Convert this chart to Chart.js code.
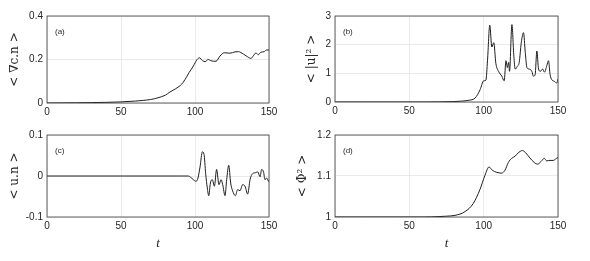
<!DOCTYPE html>
<html>
<head>
<meta charset="utf-8">
<script src="https://cdn.jsdelivr.net/npm/chart.js@4"></script>
<style>
  html, body { margin: 0; padding: 0; background: #fff; }
  #wrap { position: relative; width: 590px; height: 261px; }
  canvas { position: absolute; }
</style>
</head>
<body>
<div id="wrap">
  <canvas id="pa" width="295" height="125" style="left:0;top:0"></canvas>
  <canvas id="pb" width="295" height="125" style="left:295px;top:0"></canvas>
  <canvas id="pc" width="295" height="136" style="left:0;top:125px"></canvas>
  <canvas id="pd" width="295" height="136" style="left:295px;top:125px"></canvas>
</div>
<script>
// (a) <grad c . n>
const tGrad = [0, 10, 20, 30, 40, 50, 60, 65, 70, 75, 80, 83, 87, 90, 92, 94.4, 96, 98.9, 101.1, 103, 105, 106.8, 109, 110.6, 112.4, 114.2, 116.9, 119.8, 123.6, 127, 129.3, 132.7, 135.4, 137.8, 139.4, 141.2, 142.8, 144.4, 146.7, 148.4, 150];
const gradCN = [0, 0.0005, 0.001, 0.002, 0.003, 0.005, 0.009, 0.012, 0.016, 0.024, 0.036, 0.05, 0.066, 0.08, 0.095, 0.121, 0.14, 0.17, 0.197, 0.208, 0.195, 0.19, 0.2, 0.195, 0.192, 0.192, 0.216, 0.231, 0.229, 0.235, 0.236, 0.225, 0.213, 0.205, 0.217, 0.23, 0.222, 0.233, 0.236, 0.244, 0.243];

// (b) <|u|^2>
const tU2 = [0, 20, 40, 60, 70, 80, 85, 90, 94.3, 97.6, 100, 101.5, 102.6, 104.1, 105.5, 106.8, 108.2, 110, 112.2, 113.8, 115, 115.9, 116.8, 117.4, 119, 120.3, 121.2, 122.6, 123.9, 125.3, 126.8, 128, 129.1, 130.6, 132.4, 133.5, 134.6, 135.8, 136.9, 138.2, 139.6, 140.9, 142.5, 143.6, 144.7, 145.8, 147.6, 149.1, 150];
const u2 = [0, 0, 0, 0, 0.003, 0.015, 0.03, 0.06, 0.14, 0.43, 0.74, 0.76, 1.46, 2.68, 1.92, 2.07, 1.35, 1.07, 0.9, 0.74, 1.44, 1.2, 1.38, 1.07, 2.7, 1.6, 1.15, 1.24, 1.38, 2.07, 2.42, 1.72, 1.2, 1.15, 1.07, 0.9, 0.95, 1.78, 1.15, 1.07, 1.15, 1.04, 1.27, 1.44, 0.95, 0.78, 0.72, 0.66, 0.8];

// (c) <u.n>
const tUN = [0, 50, 90, 95.5, 97, 98.9, 100.7, 102, 103.4, 105, 106.1, 107.2, 108.3, 109.3, 110.4, 111.7, 113.1, 114.6, 116.2, 117.6, 118.7, 120.3, 121.4, 122.8, 124.1, 125.4, 127.3, 128.8, 130.4, 132.2, 133.8, 135.6, 137.2, 139, 140.8, 142.4, 144, 145, 146.3, 147.3, 148.4, 149.8, 150];
const uN = [0, 0, 0, 0, -0.003, -0.009, -0.013, -0.005, 0.022, 0.059, 0.053, 0.006, -0.029, -0.048, -0.017, -0.009, -0.025, 0.016, -0.021, -0.009, -0.021, -0.048, -0.009, 0.026, -0.017, -0.036, -0.048, -0.033, -0.036, -0.021, -0.025, -0.044, -0.009, 0.006, 0.008, 0.01, -0.002, 0.016, 0.01, -0.009, -0.005, -0.013, -0.01];

// (d) <Phi^2>
const tPhi = [0, 20, 40, 60, 70, 75, 80.7, 87.4, 93, 97.5, 100.9, 103.6, 105.8, 108.7, 112.1, 114.3, 116.6, 118.8, 121.1, 123.7, 126.2, 128.4, 131.1, 134, 136.3, 138.5, 140.8, 142.3, 144.6, 146.8, 149, 150];
const phi2 = [1, 1, 1, 1, 1.001, 1.002, 1.004, 1.013, 1.033, 1.067, 1.102, 1.122, 1.114, 1.109, 1.107, 1.114, 1.133, 1.143, 1.148, 1.158, 1.162, 1.156, 1.144, 1.133, 1.129, 1.135, 1.143, 1.137, 1.138, 1.138, 1.143, 1.145];

const xTicks = [0, 50, 100, 150];

const tickFont = { family: "Liberation Sans", size: 10 };
const inkColor = "#262626";

// box around plot + panel tag
const boxPlugin = {
  id: "box",
  afterDraw(chart, args, opts) {
    const { ctx, chartArea: a } = chart;
    ctx.save();
    ctx.strokeStyle = "#3a3a3a";
    ctx.lineWidth = 0.8;
    ctx.strokeRect(a.left, a.top, a.right - a.left, a.bottom - a.top);
    ctx.fillStyle = inkColor;
    ctx.font = "8px 'Liberation Sans'";
    ctx.textBaseline = "middle";
    ctx.fillText(opts.tag, a.left + 8, a.top + 16);
    ctx.restore();
  }
};

function makePanel(id, t, v, cfg) {
  new Chart(document.getElementById(id), {
    type: "line",
    data: {
      datasets: [{
        data: t.map((x, i) => ({ x: x, y: v[i] })),
        borderColor: "#1e1e1e",
        borderWidth: 1,
        pointRadius: 0,
        cubicInterpolationMode: "monotone",
        fill: false
      }]
    },
    options: {
      responsive: false,
      animation: false,
      layout: { padding: { top: cfg.top, right: cfg.right, left: 0, bottom: 0 } },
      plugins: { legend: { display: false }, tooltip: { enabled: false }, box: { tag: cfg.tag } },
      scales: {
        x: {
          type: "linear",
          min: 0, max: 150,
          afterBuildTicks: s => { s.ticks = xTicks.map(x => ({ value: x })); },
          afterFit: s => { s.height = cfg.xh; },
          grid: { color: "#e4e4e4", drawTicks: false, lineWidth: 0.8 },
          border: { display: false },
          ticks: { font: tickFont, color: inkColor, padding: 3, maxRotation: 0 },
          title: {
            display: cfg.showT,
            text: "t",
            font: { family: "Liberation Serif", size: 13, style: "italic" },
            color: inkColor,
            padding: { top: 0, bottom: 10 }
          }
        },
        y: {
          min: cfg.yTicks[0], max: cfg.yTicks[cfg.yTicks.length - 1],
          afterBuildTicks: s => { s.ticks = cfg.yTicks.map(y => ({ value: y })); },
          afterFit: s => { s.width = cfg.yw; },
          grid: { color: "#e4e4e4", drawTicks: false, lineWidth: 0.8 },
          border: { display: false },
          ticks: { font: tickFont, color: inkColor, padding: 4, callback: val => String(+val.toFixed(2)) },
          title: {
            display: true,
            text: cfg.yTitle,
            font: { family: "DejaVu Serif", size: 12 },
            color: inkColor,
            padding: { top: cfg.titlePad, bottom: 0 }
          }
        }
      }
    },
    plugins: [boxPlugin]
  });
}

makePanel("pa", tGrad, gradCN, { tag: "(a)", top: 16, right: 26, yw: 47, xh: 22, showT: false, yTicks: [0, 0.2, 0.4], yTitle: "< \u2207c.n >", titlePad: 8 });
makePanel("pb", tU2, u2, { tag: "(b)", top: 16, right: 32, yw: 40, xh: 23, showT: false, yTicks: [0, 1, 2, 3], yTitle: "< |u|\u00b2 >", titlePad: 10 });
makePanel("pc", tUN, uN, { tag: "(c)", top: 6, right: 26, yw: 47, xh: 44, showT: true, yTicks: [-0.1, 0, 0.1], yTitle: "< u.n >", titlePad: 8 });
makePanel("pd", tPhi, phi2, { tag: "(d)", top: 6, right: 32, yw: 40, xh: 44, showT: true, yTicks: [1, 1.1, 1.2], yTitle: "< \u03a6\u00b2 >", titlePad: 1 });
</script>
</body>
</html>
